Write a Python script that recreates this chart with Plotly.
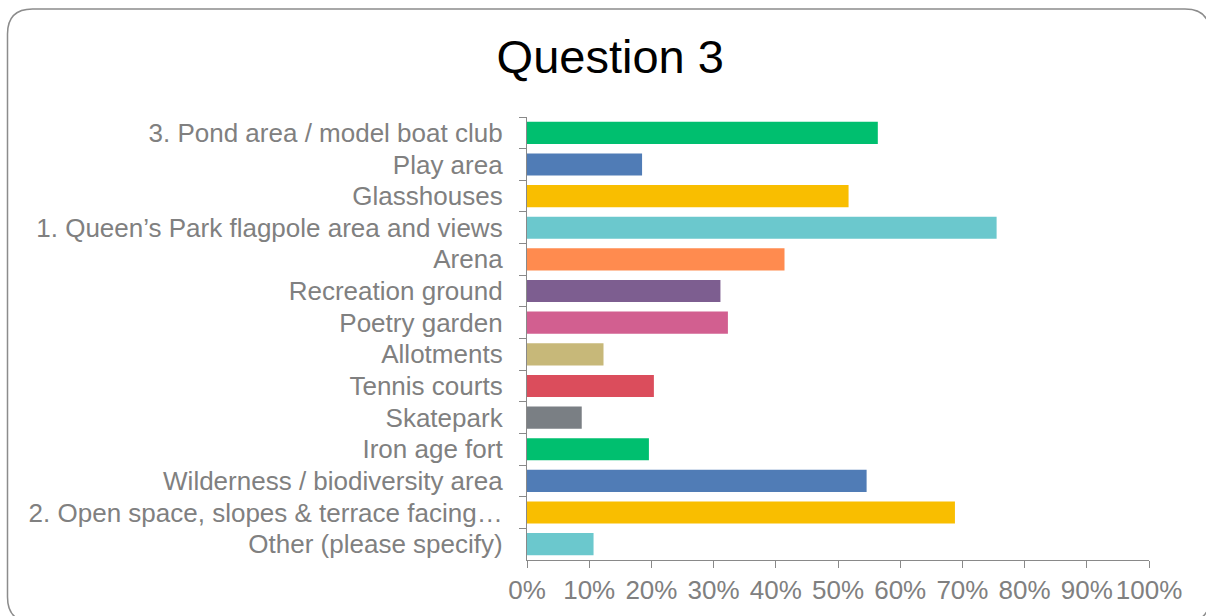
import plotly.graph_objects as go

categories = [
    "3. Pond area / model boat club",
    "Play area",
    "Glasshouses",
    "1. Queen\u2019s Park flagpole area and views",
    "Arena",
    "Recreation ground",
    "Poetry garden",
    "Allotments",
    "Tennis courts",
    "Skatepark",
    "Iron age fort",
    "Wilderness / biodiversity area",
    "2. Open space, slopes & terrace facing\u2026",
    "Other (please specify)",
]
values = [0.564, 0.185, 0.517, 0.755, 0.414, 0.311, 0.323, 0.123, 0.204,
          0.088, 0.196, 0.546, 0.688, 0.107]
colors = ["#00BF6F", "#507CB6", "#F9BE00", "#6BC8CD", "#FF8B4F", "#7D5E90",
          "#D25F90", "#C7B879", "#DB4D5C", "#7A7F84", "#00BF6F", "#507CB6",
          "#F9BE00", "#6BC8CD"]
x_tickvals = [i / 10 for i in range(11)]
x_ticktext = [f"{i*10}%" for i in range(11)]

W, H = 1206, 616
L, R, T, B = 527, 57, 117, 56
PW, PH = W - L - R, H - T - B

def px(x):
    return (x - L) / PW

def py(y):
    return (H - B - y) / PH

fig = go.Figure(go.Bar(
    x=values, y=categories, orientation="h",
    marker=dict(color=colors, line=dict(width=0)),
    hoverinfo="x+y",
))

gray = "#898989"
txt = "#808080"
fam = "Liberation Sans, Arial, sans-serif"
fig.update_layout(
    width=W, height=H,
    margin=dict(l=L, r=R, t=T, b=B, pad=0),
    paper_bgcolor="white", plot_bgcolor="white",
    bargap=0.3,
    showlegend=False,
    font=dict(family=fam, color=txt, size=26),
    title=dict(text="Question 3", x=0.506, xanchor="center", y=1 - 57 / H, yanchor="middle",
               font=dict(size=47, color="black", family=fam)),
    xaxis=dict(range=[0, 1], tickvals=x_tickvals, ticktext=x_ticktext,
               showgrid=False, zeroline=False, showline=True, linecolor=gray, linewidth=1.3,
               ticks="outside", ticklen=7, tickcolor=gray, tickwidth=1.3,
               ticklabelstandoff=0,
               tickfont=dict(size=26, color=txt, family=fam)),
    yaxis=dict(autorange="reversed", type="category", tickson="boundaries",
               showgrid=False, zeroline=False, showline=True, linecolor=gray, linewidth=1.3,
               ticks="outside", ticklen=7, tickcolor=gray, tickwidth=1.3,
               ticklabelstandoff=18,
               tickfont=dict(size=26, color=txt, family=fam)),
)

# Rounded border around the chart
Lb, Tb, Rb, Bb, r = 7.5, 9, 1210, 622, 25
path = (
    f"M {px(Lb + r)} {py(Tb)} L {px(Rb - r)} {py(Tb)} "
    f"Q {px(Rb)} {py(Tb)} {px(Rb)} {py(Tb + r)} "
    f"L {px(Rb)} {py(Bb - r)} Q {px(Rb)} {py(Bb)} {px(Rb - r)} {py(Bb)} "
    f"L {px(Lb + r)} {py(Bb)} Q {px(Lb)} {py(Bb)} {px(Lb)} {py(Bb - r)} "
    f"L {px(Lb)} {py(Tb + r)} Q {px(Lb)} {py(Tb)} {px(Lb + r)} {py(Tb)} Z"
)
fig.add_shape(type="path", path=path, xref="paper", yref="paper",
              line=dict(color="#8c8c8c", width=1.5), fillcolor="rgba(0,0,0,0)", layer="below")

fig.write_html("out.html", config={"displayModeBar": False},
               post_script="document.body.style.margin='0';document.body.style.overflow='hidden';")
